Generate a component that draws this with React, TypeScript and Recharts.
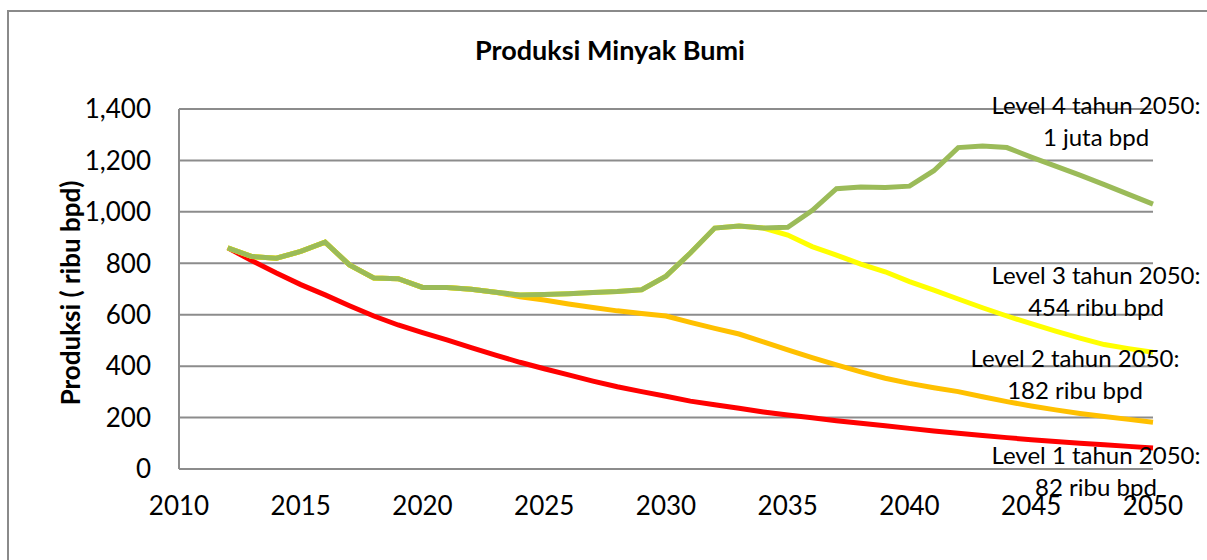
import React from "react";
import { CartesianGrid, Line, LineChart, XAxis, YAxis } from "recharts";

const years = [
  2012, 2013, 2014, 2015, 2016, 2017, 2018, 2019, 2020, 2021, 2022, 2023, 2024,
  2025, 2026, 2027, 2028, 2029, 2030, 2031, 2032, 2033, 2034, 2035, 2036, 2037,
  2038, 2039, 2040, 2041, 2042, 2043, 2044, 2045, 2046, 2047, 2048, 2049, 2050,
];

// ribu bpd
const level1 = [
  860, 810, 762, 717, 677, 635, 595, 560, 530, 502, 472, 443, 415, 390, 366, 342,
  320, 301, 283, 264, 250, 236, 222, 210, 199, 188, 178, 168, 158, 148, 139, 130,
  122, 114, 107, 100, 94, 88, 82,
];
const level2 = [
  860, 826, 820, 846, 882, 794, 743, 740, 706, 706, 699, 687, 670, 657, 642, 628,
  615, 605, 595, 570, 547, 525, 494, 463, 433, 405, 378, 353, 333, 316, 301, 281,
  262, 245, 230, 216, 204, 193, 182,
];
const level3 = [
  860, 826, 820, 846, 882, 794, 743, 740, 706, 706, 699, 687, 677, 679, 682, 686,
  690, 697, 750, 840, 937, 945, 937, 910, 865, 832, 797, 767, 729, 696, 661, 627,
  595, 565, 536, 509, 484, 468, 454,
];
const level4 = [
  860, 826, 820, 846, 882, 794, 743, 740, 706, 706, 699, 687, 677, 679, 682, 686,
  690, 697, 750, 840, 937, 945, 937, 940, 1005, 1090, 1097, 1095, 1100, 1160, 1250,
  1256, 1250, 1213, 1178, 1143, 1106, 1068, 1030,
];

const xTicks = [2010, 2015, 2020, 2025, 2030, 2035, 2040, 2045, 2050];
const yTicks = [0, 200, 400, 600, 800, 1000, 1200, 1400];

const notes = [
  { line1: "Level 4 tahun 2050:", line2: "1 juta bpd", cx: 1096, top: 89 },
  { line1: "Level 3 tahun 2050:", line2: "454 ribu bpd", cx: 1096, top: 259 },
  { line1: "Level 2 tahun 2050:", line2: "182 ribu bpd", cx: 1075, top: 342 },
  { line1: "Level 1 tahun 2050:", line2: "82 ribu bpd", cx: 1096, top: 439 },
];

const data = years.map((year, i) => ({
  year,
  l1: level1[i],
  l2: level2[i],
  l3: level3[i],
  l4: level4[i],
}));

const font = "Lato, 'Open Sans', sans-serif";

export default function App() {
  return (
    <div style={{ position: "absolute", left: 0, top: 0, width: 1207, height: 560, overflow: "hidden", background: "#fff", fontFamily: font }}>
      <div style={{ position: "absolute", left: 7, top: 10, width: 1200, height: 550, borderLeft: "2px solid #8a8a8a", borderTop: "2px solid #8a8a8a" }} />
      <div style={{ position: "absolute", left: 0, top: 0 }}>
        <LineChart width={1207} height={560} data={data} margin={{ top: 109, right: 54, left: 119, bottom: 31 }}>
          <CartesianGrid vertical={false} stroke="#8c8c8c" strokeWidth={2} />
          <XAxis
            dataKey="year"
            type="number"
            domain={[2010, 2050]}
            ticks={xTicks}
            height={60}
            tickLine={false}
            tickMargin={22}
            axisLine={{ stroke: "#8c8c8c", strokeWidth: 2 }}
            tick={{ fontSize: 26, fill: "#000", fontFamily: font }}
            interval={0}
          />
          <YAxis
            domain={[0, 1400]}
            ticks={yTicks}
            width={60}
            tickLine={false}
            tickMargin={22}
            axisLine={{ stroke: "#8c8c8c", strokeWidth: 2 }}
            tick={{ fontSize: 26, fill: "#000", fontFamily: font }}
            tickFormatter={(v: number) => v.toLocaleString("en-US")}
            interval={0}
          />
          <Line dataKey="l1" stroke="#ff0000" strokeWidth={5} dot={false} isAnimationActive={false} />
          <Line dataKey="l2" stroke="#ffc000" strokeWidth={5} dot={false} isAnimationActive={false} />
          <Line dataKey="l3" stroke="#ffff00" strokeWidth={5} dot={false} isAnimationActive={false} />
          <Line dataKey="l4" stroke="#9bbb59" strokeWidth={5} dot={false} isAnimationActive={false} />
        </LineChart>
      </div>
      <div style={{ position: "absolute", left: 410, width: 400, top: 34, textAlign: "center", fontWeight: 700, fontSize: 27, lineHeight: "32px", color: "#000" }}>
        Produksi Minyak Bumi
      </div>
      <div style={{ position: "absolute", left: 70, top: 293, transform: "translate(-50%, -50%) rotate(-90deg)", whiteSpace: "nowrap", fontWeight: 700, fontSize: 26, lineHeight: "30px", color: "#000" }}>
        Produksi ( ribu bpd)
      </div>
      {notes.map((n) => (
        <div key={n.line1} style={{ position: "absolute", left: n.cx - 130, width: 260, top: n.top, textAlign: "center", fontSize: 24, lineHeight: "32px", color: "#000" }}>
          <div>{n.line1}</div>
          <div>{n.line2}</div>
        </div>
      ))}
    </div>
  );
}
